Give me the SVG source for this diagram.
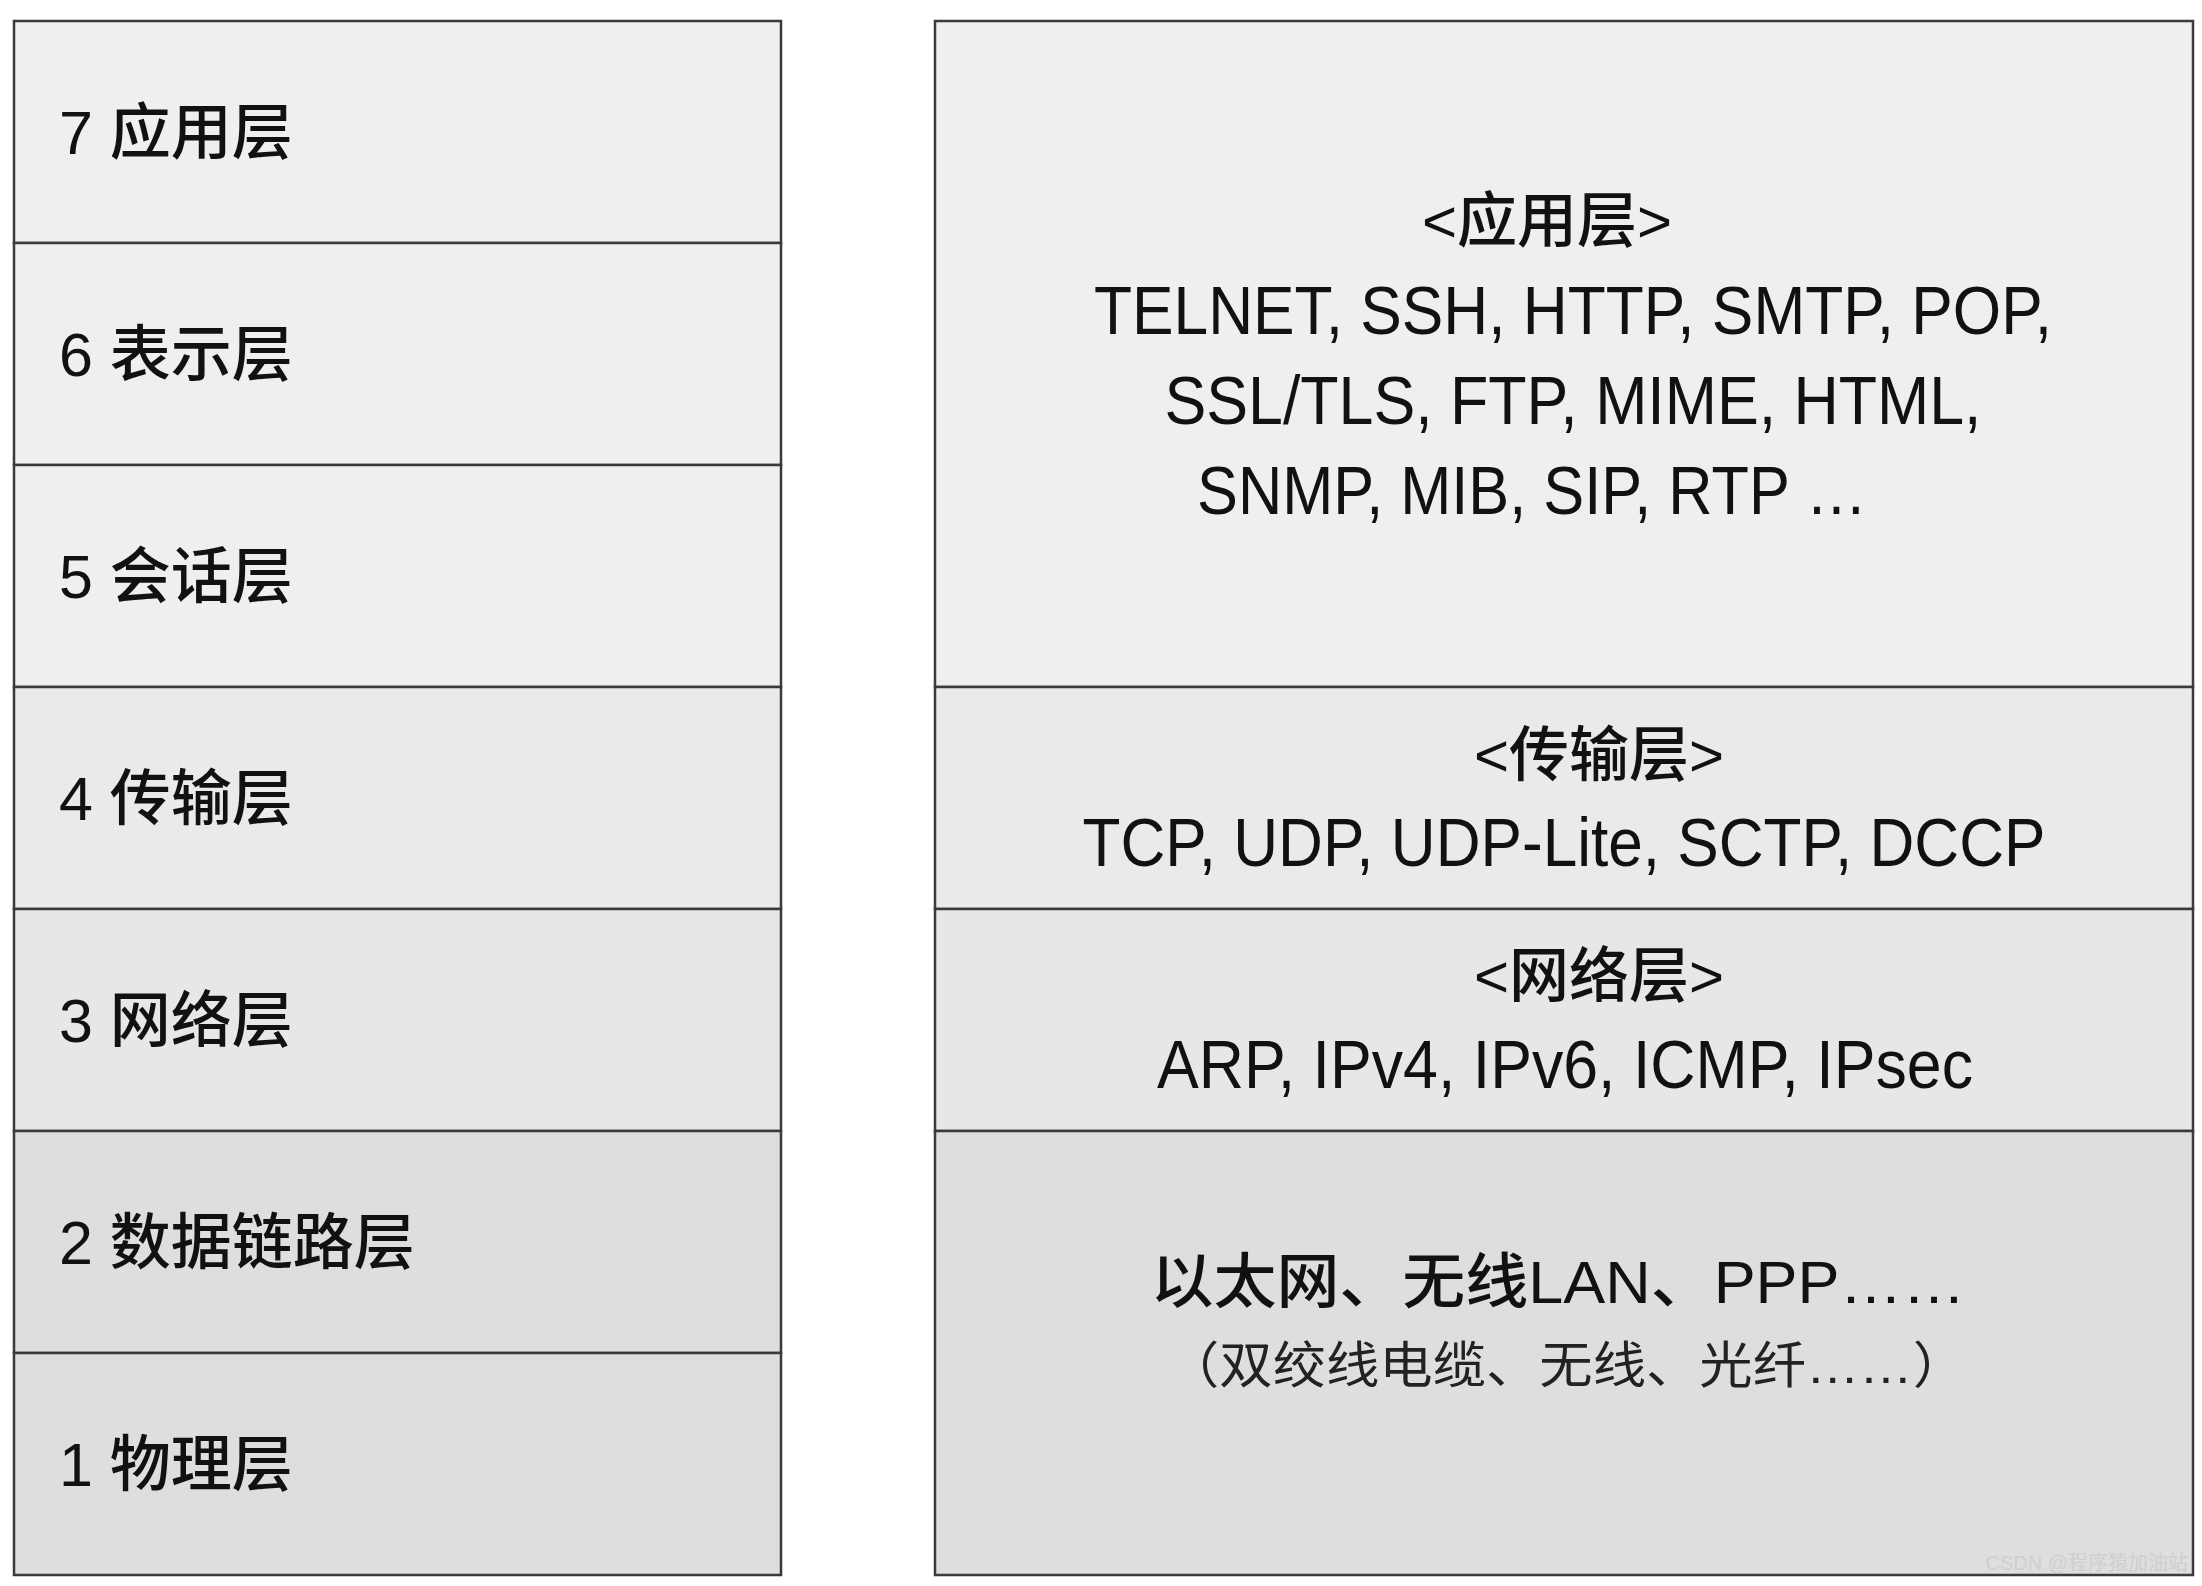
<svg xmlns="http://www.w3.org/2000/svg" width="2202" height="1586" viewBox="0 0 2202 1586">
<style>
.box{stroke:#3a3a3a;stroke-width:2.5}
.a{fill:#efefef}.b{fill:#eaeaea}.c{fill:#e7e7e7}.d{fill:#dedede}
text{font-family:"Liberation Sans","Noto Sans CJK SC",sans-serif;fill:#111}
.lbl{font-size:61px;font-weight:500}
.hd{font-size:60px;text-anchor:middle;font-weight:500}
.pr{font-size:68px;text-anchor:middle}
.sub{font-size:50px;text-anchor:middle;fill:#222}
.wm{font-size:20px;fill:#cfcfcf;text-anchor:end}
</style>
<rect width="2202" height="1586" fill="#ffffff"/>
<g id="L7"><rect class="box a" x="14" y="21" width="767" height="222"/><text class="lbl" x="59" y="154">7 应用层</text></g>
<g id="L6"><rect class="box a" x="14" y="243" width="767" height="222"/><text class="lbl" x="59" y="376">6 表示层</text></g>
<g id="L5"><rect class="box a" x="14" y="465" width="767" height="222"/><text class="lbl" x="59" y="598">5 会话层</text></g>
<g id="L4"><rect class="box b" x="14" y="687" width="767" height="222"/><text class="lbl" x="59" y="820">4 传输层</text></g>
<g id="L3"><rect class="box c" x="14" y="909" width="767" height="222"/><text class="lbl" x="59" y="1042">3 网络层</text></g>
<g id="L2"><rect class="box d" x="14" y="1131" width="767" height="222"/><text class="lbl" x="59" y="1264">2 数据链路层</text></g>
<g id="L1"><rect class="box d" x="14" y="1353" width="767" height="222"/><text class="lbl" x="59" y="1486">1 物理层</text></g>

<g id="R-app"><rect class="box a" x="935" y="21" width="1258" height="666"/>
<text class="hd" x="1547" y="242">&lt;应用层&gt;</text>
<text class="pr" x="1573" y="334" textLength="958" lengthAdjust="spacingAndGlyphs">TELNET, SSH, HTTP, SMTP, POP,</text>
<text class="pr" x="1573" y="424" textLength="817" lengthAdjust="spacingAndGlyphs">SSL/TLS, FTP, MIME, HTML,</text>
<text class="pr" x="1532" y="514" textLength="670" lengthAdjust="spacingAndGlyphs">SNMP, MIB, SIP, RTP …</text>
</g>
<g id="R-transport"><rect class="box b" x="935" y="687" width="1258" height="222"/>
<text class="hd" x="1599" y="776">&lt;传输层&gt;</text>
<text class="pr" x="1564" y="866" textLength="963" lengthAdjust="spacingAndGlyphs">TCP, UDP, UDP-Lite, SCTP, DCCP</text>
</g>
<g id="R-network"><rect class="box c" x="935" y="909" width="1258" height="222"/>
<text class="hd" x="1599" y="997">&lt;网络层&gt;</text>
<text class="pr" x="1565" y="1088" textLength="816" lengthAdjust="spacingAndGlyphs">ARP, IPv4, IPv6, ICMP, IPsec</text>
</g>
<g id="R-link"><rect class="box d" x="935" y="1131" width="1258" height="444"/>
<text class="hd" x="1558" y="1303" textLength="815" lengthAdjust="spacingAndGlyphs">以太网、无线LAN、PPP……</text>
<text class="sub" x="1566" y="1383" textLength="800" lengthAdjust="spacingAndGlyphs">（双绞线电缆、无线、光纤……）</text>
</g>
<g id="connectors"/>
<text class="wm" x="2188" y="1570">CSDN @程序猿加油站</text>
</svg>
